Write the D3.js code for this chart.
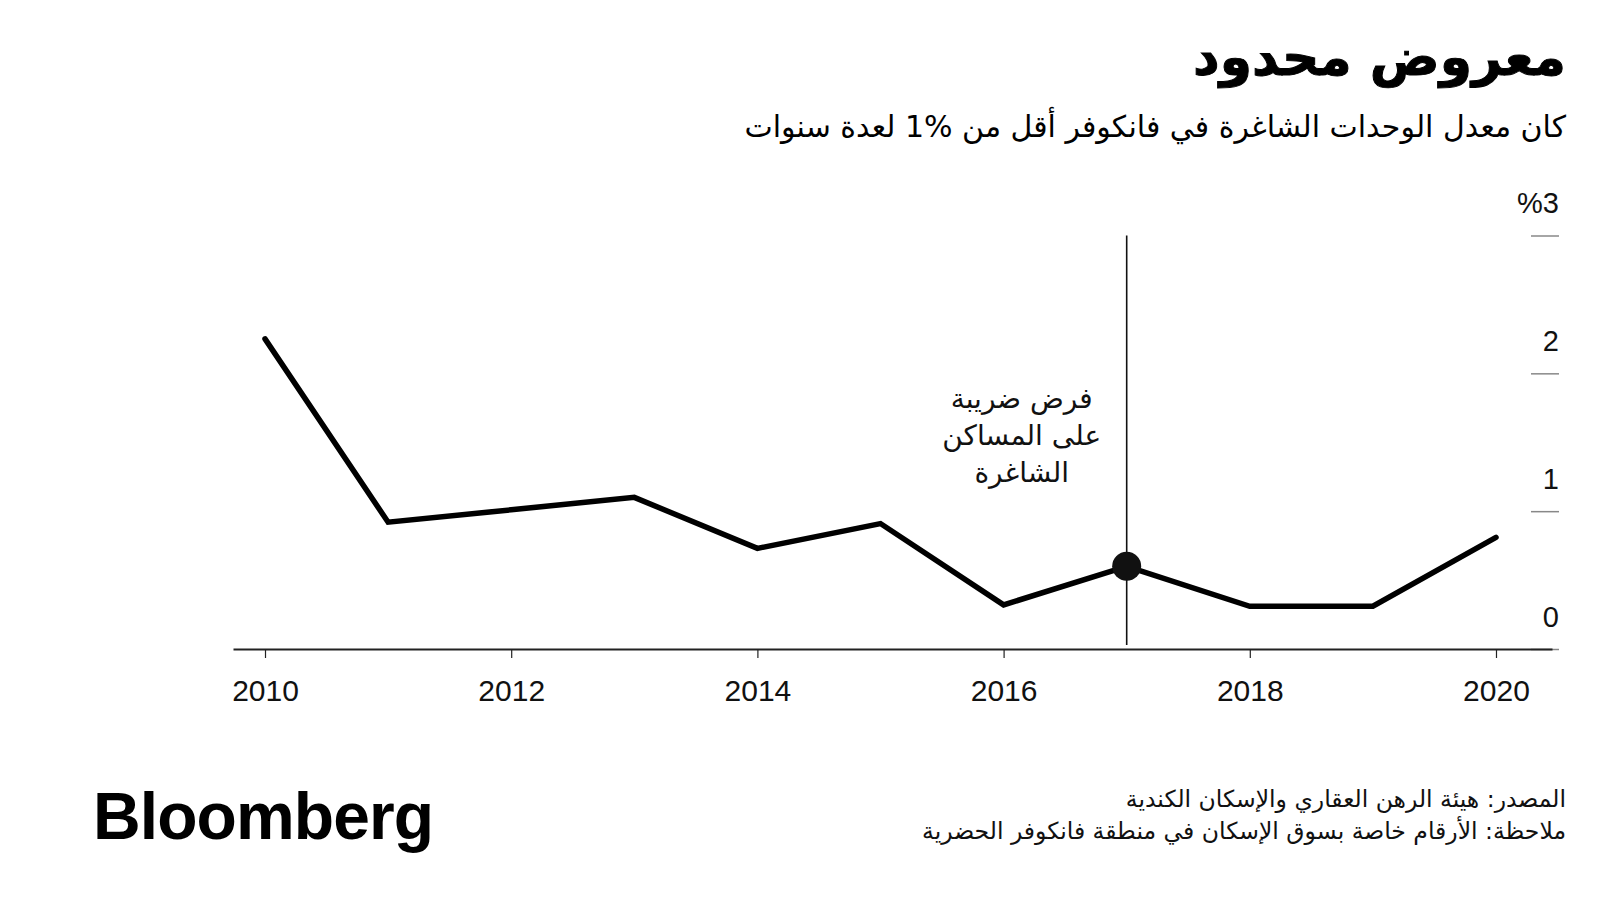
<!DOCTYPE html>
<html>
<head>
<meta charset="utf-8">
<script src="https://cdn.jsdelivr.net/npm/d3@7"></script>
<style>
  html, body { margin: 0; padding: 0; background: #fff; }
  svg { display: block; }
  .ar { font-family: "DejaVu Sans", "Noto Sans", sans-serif; }
  .num { font-family: "Liberation Sans", Arial, sans-serif; }
</style>
</head>
<body>
<svg id="chart" width="1600" height="900"></svg>
<script>
// ---- data ----
const years = [2010, 2011, 2012, 2013, 2014, 2015, 2016, 2017, 2018, 2019, 2020];
const vacancyRate = [2.25, 0.92, 1.01, 1.10, 0.73, 0.91, 0.32, 0.60, 0.31, 0.31, 0.81];
const xTickValues = [2010, 2012, 2014, 2016, 2018, 2020];
const yTickValues = [0, 1, 2, 3];
const yTickLabels = ["0", "1", "2", "%3"];
const eventYear = 2017;
const eventLabel = ["فرض ضريبة", "على المساكن", "الشاغرة"];
const titleText = "معروض محدود";
const subtitleText = "كان معدل الوحدات الشاغرة في فانكوفر أقل من %1 لعدة سنوات";
const sourceLines = [
  "المصدر: هيئة الرهن العقاري والإسكان الكندية",
  "ملاحظة: الأرقام خاصة بسوق الإسكان في منطقة فانكوفر الحضرية"
];

const svg = d3.select("#chart");
svg.append("rect").attr("width", 1600).attr("height", 900).attr("fill", "#fff");

// ---- scales ----
const x = d3.scaleLinear().domain([2009.74, 2020.455]).range([233, 1552]);
const y = d3.scaleLinear().domain([0, 3]).range([649, 235.5]);

// ---- title ----
svg.append("text").attr("class", "ar")
  .attr("x", 1566).attr("y", 75)
  .attr("direction", "rtl").attr("text-anchor", "start")
  .attr("font-size", 52).attr("font-weight", 700).attr("fill", "#000")
  .attr("stroke", "#000").attr("stroke-width", 1)
  .text(titleText);

svg.append("text").attr("class", "ar")
  .attr("x", 1566).attr("y", 137)
  .attr("direction", "rtl").attr("text-anchor", "start")
  .attr("font-size", 30).attr("fill", "#000")
  .text(subtitleText);

// ---- y axis (right) ----
const yAxis = d3.axisLeft(y).tickValues(yTickValues).tickSize(28)
  .tickFormat((d, i) => yTickLabels[i]);
const gy = svg.append("g").attr("transform", "translate(1559,0)").call(yAxis);
gy.select(".domain").remove();
gy.selectAll(".tick line").attr("stroke", "#888").attr("stroke-width", 1.5);
gy.selectAll(".tick text")
  .attr("class", "num")
  .attr("x", 0).attr("dy", null).attr("y", -23)
  .attr("text-anchor", "end")
  .attr("direction", "ltr")
  .attr("font-size", 29).attr("fill", "#111");

// ---- x axis ----
const xAxis = d3.axisBottom(x).tickValues(xTickValues).tickSize(9).tickSizeOuter(0)
  .tickFormat(d3.format("d")).tickPadding(22);
const gx = svg.append("g").attr("transform", `translate(0,${y(0)})`).call(xAxis);
gx.select(".domain").attr("stroke", "#222").attr("stroke-width", 2.2);
gx.selectAll(".tick line").attr("stroke", "#222").attr("stroke-width", 1.2);
gx.selectAll(".tick text").attr("class", "num")
  .attr("font-size", 30).attr("fill", "#111");

// ---- event marker line ----
svg.append("line")
  .attr("x1", x(eventYear)).attr("x2", x(eventYear))
  .attr("y1", y(3)).attr("y2", y(0) - 4)
  .attr("stroke", "#111").attr("stroke-width", 1.6);

// ---- line ----
const data = years.map((yr, i) => ({ year: yr, value: vacancyRate[i] }));
const line = d3.line().x(d => x(d.year)).y(d => y(d.value));
svg.append("path").datum(data)
  .attr("d", line)
  .attr("fill", "none").attr("stroke", "#000")
  .attr("stroke-width", 5.5)
  .attr("stroke-linecap", "round")
  .attr("stroke-linejoin", "miter");

// ---- event dot ----
const ev = data.find(d => d.year === eventYear);
svg.append("circle")
  .attr("cx", x(ev.year)).attr("cy", y(ev.value)).attr("r", 14.5)
  .attr("fill", "#111");

// ---- annotation text ----
const ann = svg.append("text").attr("class", "ar")
  .attr("text-anchor", "middle").attr("font-size", 28).attr("fill", "#111");
eventLabel.forEach((t, i) => {
  ann.append("tspan").attr("x", x(eventYear) - 105).attr("y", 408 + i * 37)
    .attr("direction", "rtl").text(t);
});

// ---- footer ----
svg.append("text").attr("class", "num")
  .attr("x", 93).attr("y", 839)
  .attr("font-size", 66).attr("font-weight", 700).attr("fill", "#000")
  .attr("letter-spacing", -0.9)
  .text("Bloomberg");

sourceLines.forEach((t, i) => {
  svg.append("text").attr("class", "ar")
    .attr("x", 1566).attr("y", 807 + i * 32)
    .attr("direction", "rtl").attr("text-anchor", "start")
    .attr("font-size", 23.5).attr("fill", "#111")
    .text(t);
});
</script>
</body>
</html>
